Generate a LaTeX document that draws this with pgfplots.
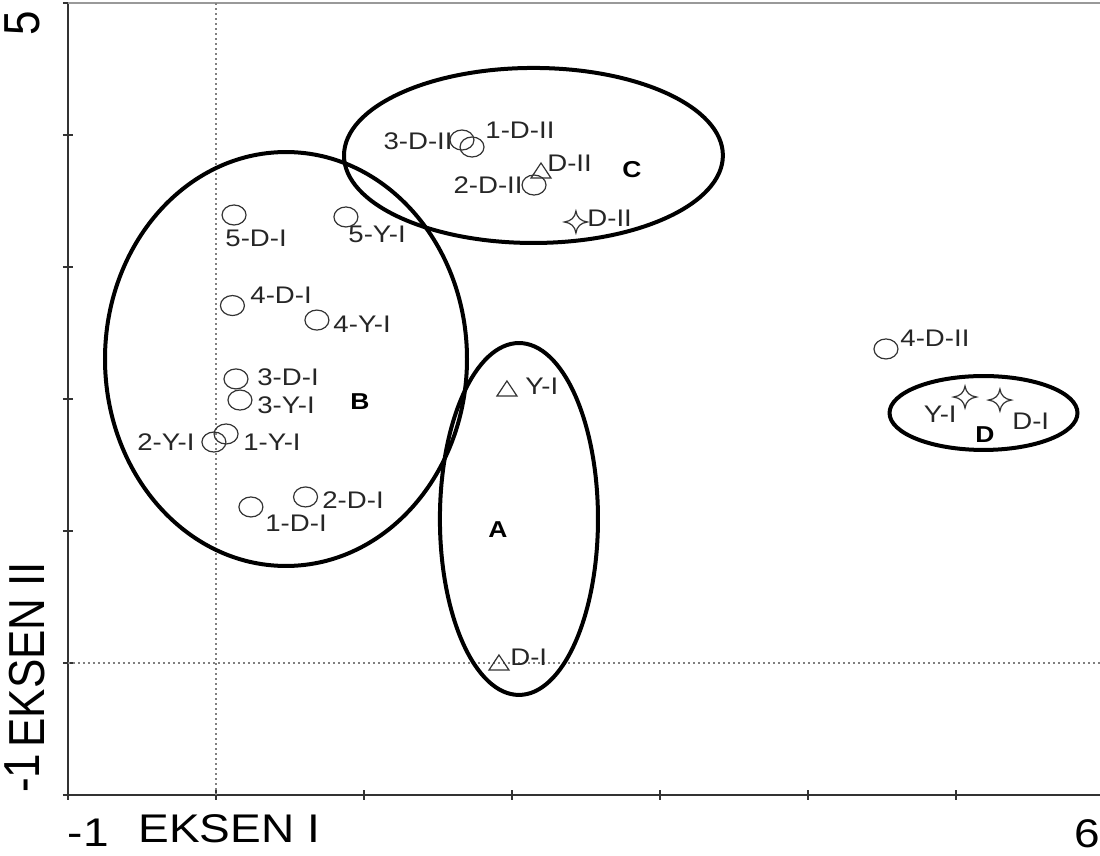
\documentclass[border=0pt]{standalone}
\usepackage{fontspec}
\setmainfont{Liberation Sans}[FakeStretch=1.15]
\newfontfamily\plainsans{Liberation Sans}
\usepackage{pgfplots}
\pgfplotsset{compat=1.18}

\pgfdeclareplotmark{star4}{%
  \pgfpathmoveto{\pgfqpoint{0pt}{\pgfplotmarksize}}%
  \pgfpathquadraticcurveto{\pgfqpoint{0.12\pgfplotmarksize}{0.12\pgfplotmarksize}}{\pgfqpoint{\pgfplotmarksize}{0pt}}%
  \pgfpathquadraticcurveto{\pgfqpoint{0.12\pgfplotmarksize}{-0.12\pgfplotmarksize}}{\pgfqpoint{0pt}{-\pgfplotmarksize}}%
  \pgfpathquadraticcurveto{\pgfqpoint{-0.12\pgfplotmarksize}{-0.12\pgfplotmarksize}}{\pgfqpoint{-\pgfplotmarksize}{0pt}}%
  \pgfpathquadraticcurveto{\pgfqpoint{-0.12\pgfplotmarksize}{0.12\pgfplotmarksize}}{\pgfqpoint{0pt}{\pgfplotmarksize}}%
  \pgfpathclose
  \pgfusepathqstroke
}

\tikzset{
  lbl/.style={font=\fontsize{12}{12}\selectfont, inner sep=0pt, text=black!85},
  grp/.style={font=\fontsize{11.5}{11.5}\selectfont\bfseries, inner sep=0pt},
}

\pgfplotstableread{
x y
0.122 3.394
0.878 3.379
0.111 2.708
0.682 2.598
0.135 2.152
0.162 1.992
0.068 1.735
-0.014 1.674
0.236 1.182
0.605 1.258
1.662 3.962
1.730 3.909
2.149 3.621
4.527 2.379
}\circles

\pgfplotstableread{
x y
2.196 3.712
1.966 2.061
1.912 -0.015
}\triangles

\pgfplotstableread{
x y
2.432 3.341
5.061 2.015
5.297 1.992
}\stars

\begin{document}
\begin{tikzpicture}
\begin{axis}[
  scale only axis, width=518pt, height=396pt,
  xmin=-1, xmax=6, ymin=-1, ymax=5,
  axis x line*=bottom, axis y line*=left,
  axis line style={line width=1pt, black!80},
  xtick={-1,0,...,6}, ytick={-1,0,...,5},
  tick align=center, major tick length=5pt,
  tick style={black!80, line width=0.8pt},
  xticklabel={\ifnum\ticknum=0 \makebox[0pt][l]{-1}\else\ifnum\ticknum=7 \makebox[0pt][r]{6\hspace{2pt}}\fi\fi},
  yticklabel={\ifnum\ticknum=0 \makebox[0pt][l]{\hspace{1pt}-1}\else\ifnum\ticknum=6 \makebox[0pt][r]{5\hspace{4pt}}\fi\fi},
  xticklabel style={font=\fontsize{20}{20}\selectfont, anchor=north, inner sep=0pt},
  yticklabel style={font=\plainsans\fontsize{22}{22}\selectfont, rotate=90, yscale=1.15, anchor=south, inner sep=0pt},
  xticklabel shift=9.5pt, yticklabel shift=11.5pt,
  xlabel={EKSEN I}, ylabel={EKSEN II},
  xlabel style={font=\fontsize{20}{20}\selectfont, at={(rel axis cs:0,0)}, anchor=north west, inner sep=0pt, xshift=35pt, yshift=-9.5pt},
  every axis y label/.style={font=\plainsans\fontsize{22}{22}\selectfont, at={(rel axis cs:0,0)}, xshift=-11.5pt, yshift=23.5pt, rotate=90, yscale=1.15, anchor=south west, inner sep=0pt},
  clip=false,
]
% reference lines
\draw[gray!80, line width=1.2pt] (rel axis cs:0,1) -- (rel axis cs:1,1);
\draw[gray, line width=0.6pt, dash pattern=on 1pt off 1.5pt] (axis cs:0,-1) -- (axis cs:0,5);
\draw[gray, line width=0.6pt, dash pattern=on 1pt off 1.5pt] (axis cs:-1,0) -- (axis cs:6,0);

% group ellipses
\draw[line width=2pt] (axis cs:2.145,3.845) ellipse [x radius=1.280, y radius=0.663];
\draw[line width=2pt] (axis cs:0.473,2.303) ellipse [x radius=1.223, y radius=1.568];
\draw[line width=2pt] (axis cs:2.047,1.091) ellipse [x radius=0.534, y radius=1.333];
\draw[line width=2pt] (axis cs:5.186,1.894) ellipse [x radius=0.635, y radius=0.280];

\addplot[only marks, mark=o, mark size=5pt, mark options={xscale=1.2, line width=0.6pt, draw=black!80}] table {\circles};
\addplot[only marks, mark=triangle, mark size=5pt, mark options={xscale=1.15, line width=0.6pt, draw=black!80}] table {\triangles};
\addplot[only marks, mark=star4, mark size=5.5pt, mark options={xscale=1.05, line width=0.6pt, draw=black!80}] table {\stars};

% point labels
\node[lbl, anchor=west] at (axis cs:0.061,3.220) {5-D-I};
\node[lbl, anchor=west] at (axis cs:0.892,3.250) {5-Y-I};
\node[lbl, anchor=west] at (axis cs:0.230,2.788) {4-D-I};
\node[lbl, anchor=west] at (axis cs:0.791,2.568) {4-Y-I};
\node[lbl, anchor=west] at (axis cs:0.277,2.167) {3-D-I};
\node[lbl, anchor=west] at (axis cs:0.277,1.955) {3-Y-I};
\node[lbl, anchor=west] at (axis cs:0.182,1.674) {1-Y-I};
\node[lbl, anchor=east] at (axis cs:-0.142,1.674) {2-Y-I};
\node[lbl, anchor=west] at (axis cs:0.331,1.061) {1-D-I};
\node[lbl, anchor=west] at (axis cs:0.716,1.235) {2-D-I};
\node[lbl, anchor=east] at (axis cs:1.601,3.955) {3-D-II};
\node[lbl, anchor=west] at (axis cs:1.818,4.038) {1-D-II};
\node[lbl, anchor=east] at (axis cs:2.074,3.621) {2-D-II};
\node[lbl, anchor=west] at (axis cs:2.236,3.788) {D-II};
\node[lbl, anchor=west] at (axis cs:2.507,3.371) {D-II};
\node[lbl, anchor=west] at (axis cs:4.622,2.462) {4-D-II};
\node[lbl, anchor=east] at (axis cs:5.007,1.886) {Y-I};
\node[lbl, anchor=west] at (axis cs:5.378,1.833) {D-I};
\node[lbl, anchor=west] at (axis cs:2.088,2.098) {Y-I};
\node[lbl, anchor=west] at (axis cs:1.986,0.045) {D-I};

% group letters
\node[grp] at (axis cs:1.905,1.008) {A};
\node[grp] at (axis cs:0.973,1.977) {B};
\node[grp] at (axis cs:2.811,3.735) {C};
\node[grp] at (axis cs:5.196,1.727) {D};
\end{axis}
\pgfresetboundingbox
\path (-34pt,-30.5pt) rectangle (516pt,397.5pt);
\end{tikzpicture}
\end{document}
